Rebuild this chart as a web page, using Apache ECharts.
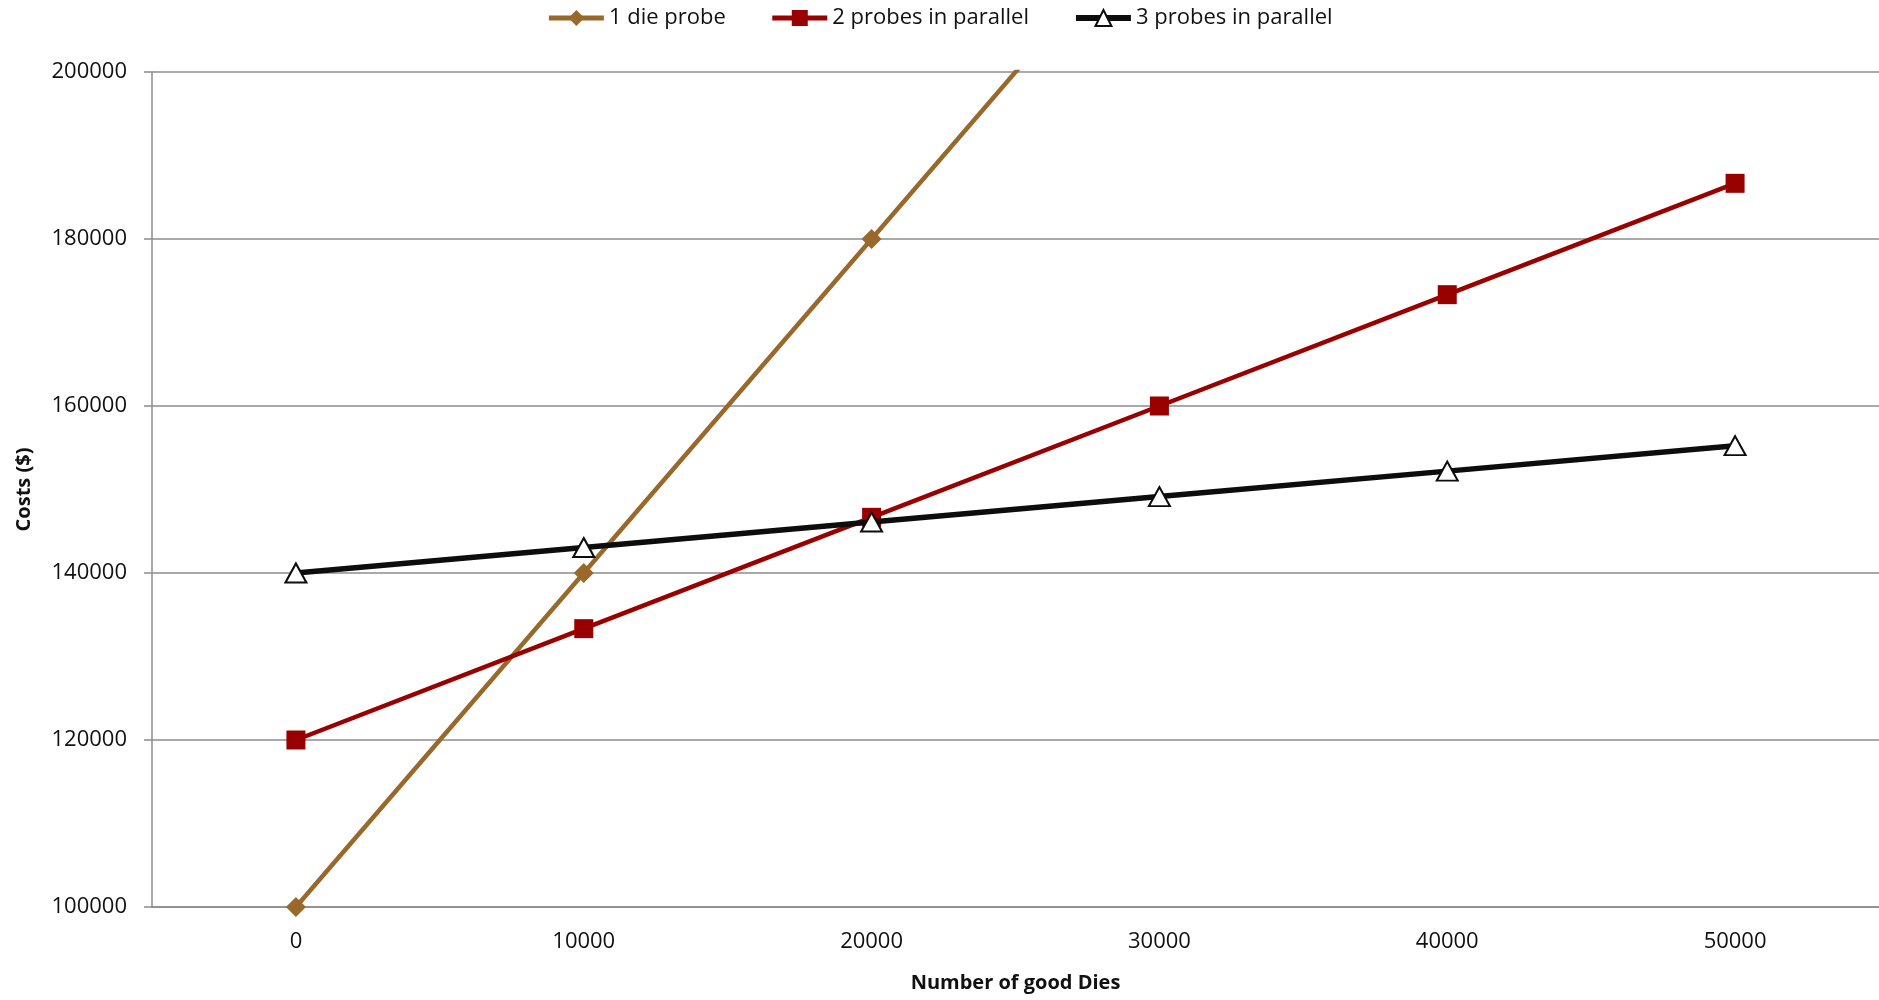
<!DOCTYPE html>
<html>
<head>
<meta charset="utf-8">
<script src="https://cdn.jsdelivr.net/npm/echarts@6/dist/echarts.min.js"></script>
<style>
html,body{margin:0;padding:0;background:#fff;}
#chart{width:1879px;height:1000px;}
</style>
</head>
<body>
<div id="chart"></div>
<script>
const categories = ['0', '10000', '20000', '30000', '40000', '50000'];
const oneDieProbe = [100000, 140000, 180000, 220000, 260000, 300000];
const twoProbes = [120000, 133333, 146667, 160000, 173333, 186667];
const threeProbes = [140000, 143050, 146100, 149150, 152200, 155250];
const seriesNames = ['1 die probe', '2 probes in parallel', '3 probes in parallel'];
const yTicks = { min: 100000, max: 200000, interval: 20000 };

const FONT = '"Open Sans", "Noto Sans", sans-serif';
const GRID = '#8c8c8c';

const chart = echarts.init(document.getElementById('chart'), null, { renderer: 'canvas' });
chart.setOption({
  animation: false,
  backgroundColor: '#ffffff',
  textStyle: { fontFamily: FONT },
  legend: {
    top: 2,
    left: 'center',
    itemWidth: 55,
    itemHeight: 20,
    itemGap: 44,
    textStyle: { fontFamily: FONT, fontSize: 22, color: '#111' },
    data: [
      { name: seriesNames[0], lineStyle: { width: 5 } },
      { name: seriesNames[1], lineStyle: { width: 5 } },
      { name: seriesNames[2], lineStyle: { width: 6 } }
    ]
  },
  grid: { left: 152, right: 0, top: 72, bottom: 93, containLabel: false },
  xAxis: {
    type: 'category',
    data: categories,
    boundaryGap: true,
    name: 'Number of good Dies',
    nameLocation: 'middle',
    nameGap: 66,
    nameTextStyle: { fontFamily: FONT, fontSize: 20, fontWeight: 'bold', color: '#111' },
    axisLine: { show: true, lineStyle: { color: GRID, width: 1.5 } },
    axisTick: { show: false },
    axisLabel: { fontFamily: FONT, fontSize: 22, color: '#111', margin: 24 },
    splitLine: { show: false }
  },
  yAxis: {
    type: 'value',
    min: yTicks.min,
    max: yTicks.max,
    interval: yTicks.interval,
    name: 'Costs ($)',
    nameLocation: 'middle',
    nameGap: 118,
    nameRotate: 90,
    nameTextStyle: { fontFamily: FONT, fontSize: 20, fontWeight: 'bold', color: '#111' },
    axisLine: { show: true, lineStyle: { color: GRID, width: 1.5 } },
    axisTick: { show: true, inside: false, length: 8, lineStyle: { color: GRID, width: 1.5 } },
    axisLabel: { fontFamily: FONT, fontSize: 22, color: '#111', margin: 25, formatter: function (v) { return String(v); } },
    splitLine: { show: true, lineStyle: { color: GRID, width: 1.5 } }
  },
  series: [
    {
      name: seriesNames[0],
      type: 'line',
      data: oneDieProbe,
      symbol: 'diamond',
      symbolSize: 20,
      clip: true,
      lineStyle: { color: '#98692B', width: 4.5 },
      itemStyle: { color: '#98692B' },
      z: 2
    },
    {
      name: seriesNames[1],
      type: 'line',
      data: twoProbes,
      symbol: 'rect',
      symbolSize: 19,
      clip: true,
      lineStyle: { color: '#990000', width: 4.5 },
      itemStyle: { color: '#990000' },
      z: 3
    },
    {
      name: seriesNames[2],
      type: 'line',
      data: threeProbes,
      symbol: 'triangle',
      symbolSize: [21, 19],
      clip: true,
      lineStyle: { color: '#0d0d0d', width: 5.5 },
      itemStyle: { color: '#ffffff', borderColor: '#0d0d0d', borderWidth: 2 },
      z: 4
    }
  ]
});
</script>
</body>
</html>
